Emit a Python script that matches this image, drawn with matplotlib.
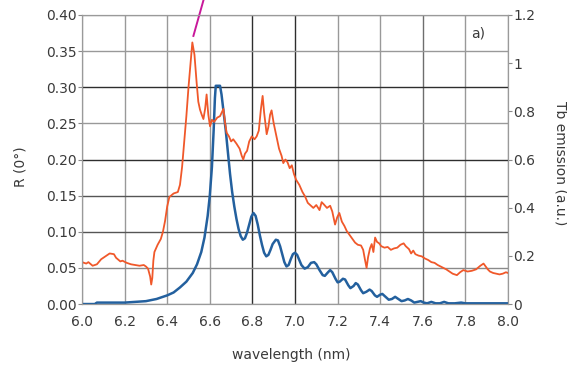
import matplotlib as mpl
mpl.use("Agg")
import matplotlib.pyplot as plt

# reflectivity R(0 deg), left axis
r_wl = [6.00, 6.02, 6.03, 6.05, 6.07, 6.09, 6.11, 6.13, 6.15, 6.16, 6.18, 6.19,
        6.21, 6.23, 6.25, 6.27, 6.29, 6.30, 6.31, 6.32, 6.325, 6.33, 6.335, 6.34,
        6.355, 6.37, 6.38, 6.39, 6.40, 6.41, 6.43, 6.45, 6.46, 6.47, 6.48, 6.49,
        6.50, 6.51, 6.518, 6.528, 6.538, 6.546, 6.554, 6.562, 6.57, 6.578, 6.585,
        6.593, 6.601, 6.61, 6.62, 6.635, 6.648, 6.664, 6.672, 6.679, 6.69, 6.70,
        6.71, 6.725, 6.74, 6.75, 6.757, 6.765, 6.775, 6.785, 6.797, 6.81, 6.82,
        6.83, 6.84, 6.848, 6.855, 6.867, 6.875, 6.883, 6.89, 6.90, 6.914, 6.925,
        6.937, 6.945, 6.955, 6.965, 6.975, 6.985, 6.995, 7.005, 7.02, 7.035,
        7.047, 7.06, 7.075, 7.086, 7.10, 7.115, 7.125, 7.135, 7.15, 7.165, 7.175,
        7.188, 7.198, 7.208, 7.22, 7.232, 7.243, 7.255, 7.27, 7.282, 7.295, 7.31,
        7.32, 7.328, 7.336, 7.343, 7.352, 7.36, 7.368, 7.376, 7.385, 7.395, 7.405,
        7.42, 7.435, 7.45, 7.465, 7.48, 7.495, 7.51, 7.52, 7.535, 7.545, 7.555,
        7.565, 7.58, 7.595, 7.61, 7.625, 7.64, 7.655, 7.67, 7.69, 7.71, 7.725,
        7.74, 7.76, 7.775, 7.79, 7.81, 7.83, 7.85, 7.87, 7.885, 7.895, 7.905,
        7.915, 7.93, 7.945, 7.96, 7.975, 7.99, 8.00]
r_val = [0.058, 0.056, 0.058, 0.053, 0.055, 0.062, 0.066, 0.070, 0.069, 0.064, 0.059, 0.060,
         0.057, 0.055, 0.054, 0.053, 0.054, 0.052, 0.049, 0.038, 0.027, 0.036, 0.060, 0.072,
         0.082, 0.090, 0.100, 0.115, 0.135, 0.148, 0.153, 0.155, 0.165, 0.190, 0.225, 0.260,
         0.300, 0.335, 0.362, 0.345, 0.307, 0.280, 0.269, 0.262, 0.256, 0.270, 0.290,
         0.262, 0.246, 0.255, 0.252, 0.258, 0.260, 0.270, 0.250, 0.237, 0.232, 0.225,
         0.228, 0.222, 0.215, 0.205, 0.200, 0.208, 0.212, 0.225, 0.232, 0.228, 0.232,
         0.240, 0.270, 0.288, 0.265, 0.235, 0.245, 0.262, 0.268, 0.250, 0.230, 0.215,
         0.205, 0.195, 0.200, 0.196, 0.188, 0.192, 0.180, 0.172, 0.165, 0.155,
         0.149, 0.140, 0.136, 0.133, 0.137, 0.130, 0.141, 0.138, 0.133, 0.136, 0.128,
         0.110, 0.120, 0.126, 0.114, 0.108, 0.101, 0.096, 0.090, 0.085, 0.082, 0.081,
         0.075, 0.062, 0.050, 0.065, 0.077, 0.083, 0.072, 0.092, 0.086, 0.084, 0.080,
         0.078, 0.079, 0.075, 0.077, 0.078, 0.082, 0.084, 0.080, 0.076, 0.070, 0.074,
         0.069, 0.067, 0.066, 0.063, 0.061, 0.058, 0.057, 0.054, 0.051, 0.048, 0.045,
         0.042, 0.040, 0.044, 0.047, 0.045, 0.046, 0.048, 0.053, 0.056, 0.052, 0.048,
         0.045, 0.043, 0.042, 0.041, 0.042, 0.044, 0.043]

# Tb emission (a.u.), right axis
tb_wl = [6.00, 6.06, 6.07, 6.15, 6.20, 6.25, 6.30, 6.35, 6.40, 6.43, 6.46, 6.49,
         6.52, 6.54, 6.56, 6.575, 6.59, 6.60, 6.61, 6.618, 6.624, 6.628, 6.648,
         6.655, 6.665, 6.675, 6.685, 6.695, 6.705, 6.715, 6.725, 6.735, 6.745,
         6.755, 6.765, 6.775, 6.785, 6.795, 6.805, 6.815, 6.825, 6.835, 6.845,
         6.855, 6.865, 6.875, 6.885, 6.895, 6.91, 6.92, 6.93, 6.94, 6.95, 6.96,
         6.97, 6.98, 6.99, 7.00, 7.01, 7.02, 7.03, 7.045, 7.06, 7.075, 7.09, 7.10,
         7.115, 7.13, 7.14, 7.155, 7.165, 7.175, 7.19, 7.20, 7.21, 7.225, 7.235,
         7.25, 7.26, 7.275, 7.285, 7.295, 7.31, 7.32, 7.335, 7.35, 7.36, 7.375,
         7.385, 7.40, 7.41, 7.425, 7.44, 7.455, 7.47, 7.485, 7.50, 7.515, 7.53,
         7.545, 7.56, 7.575, 7.59, 7.605, 7.62, 7.64, 7.66, 7.68, 7.70, 7.72,
         7.75, 7.78, 7.80, 7.85, 7.90, 7.95, 8.00]
tb_val = [0.000, 0.000, 0.006, 0.006, 0.006, 0.009, 0.012, 0.021, 0.036, 0.048, 0.069, 0.093,
          0.129, 0.165, 0.216, 0.276, 0.366, 0.450, 0.570, 0.720, 0.855, 0.906, 0.906,
          0.870, 0.795, 0.720, 0.630, 0.540, 0.465, 0.405, 0.354, 0.312, 0.282,
          0.267, 0.273, 0.297, 0.330, 0.363, 0.378, 0.366, 0.330, 0.285, 0.246,
          0.213, 0.198, 0.204, 0.225, 0.249, 0.267, 0.264, 0.240, 0.207, 0.174, 0.156,
          0.162, 0.186, 0.207, 0.213, 0.204, 0.183, 0.162, 0.147, 0.153, 0.171, 0.174, 0.165,
          0.141, 0.120, 0.117, 0.132, 0.141, 0.132, 0.105, 0.090, 0.093, 0.105, 0.102,
          0.078, 0.066, 0.075, 0.087, 0.081, 0.057, 0.045, 0.051, 0.060, 0.054, 0.036,
          0.030, 0.039, 0.042, 0.030, 0.018, 0.021, 0.030, 0.021, 0.012, 0.015, 0.021,
          0.015, 0.006, 0.009, 0.012, 0.006, 0.003, 0.009, 0.003, 0.003, 0.009, 0.003,
          0.003, 0.006, 0.003, 0.003, 0.003, 0.003, 0.003]

# magenta pointer line (data coords, runs off the top of the figure)
pointer_x = [6.523, 6.59]
pointer_y = [0.371, 0.441]

xticks = [6.0, 6.2, 6.4, 6.6, 6.8, 7.0, 7.2, 7.4, 7.6, 7.8, 8.0]
lticks = [0.00, 0.05, 0.10, 0.15, 0.20, 0.25, 0.30, 0.35, 0.40]
rticks = [0, 0.2, 0.4, 0.6, 0.8, 1.0, 1.2]
rtick_labels = ["0", "0.2", "0.4", "0.6", "0.8", "1", "1.2"]

# grid shading as it looks in the scan
xgrid_col = ["#999999", "#999999", "#999999", "#999999", "#2e2e2e", "#2e2e2e",
             "#999999", "#999999", "#6e6e6e", "#999999", "#999999"]
ygrid_col = ["#999999", "#8a8a8a", "#555555", "#555555", "#2e2e2e", "#999999",
             "#2e2e2e", "#999999", "#999999"]

plt.rcParams["font.family"] = ["DejaVu Sans"]
txt = "#3a3a3a"

fig = plt.figure(figsize=(5.67, 3.65), dpi=100)
ax = fig.add_axes([0.1446, 0.167, 0.7514, 0.792])
ax2 = ax.twinx()
ax2.set_ylim(0, 1.2)

# both curves live in ax so the grid stays underneath; blue uses the right scale
ax.plot(tb_wl, tb_val, color="#23609e", lw=1.8, zorder=3, transform=ax2.transData)
ax.plot(r_wl, r_val, color="#f0582a", lw=1.3, zorder=4)
ax.plot(pointer_x, pointer_y, color="#c8189a", lw=1.4, clip_on=False, zorder=5)

ax.set_xlim(6.0, 8.0)
ax.set_ylim(0, 0.40)
ax.set_xticks(xticks)
ax.set_xticklabels(["%.1f" % v for v in xticks])
ax.set_yticks(lticks)
ax.set_yticklabels(["%.2f" % v for v in lticks])
ax2.set_yticks(rticks)
ax2.set_yticklabels(rtick_labels)

ax.grid(True, lw=1.0)
ax.set_axisbelow(True)
for gl, c in zip(ax.xaxis.get_gridlines(), xgrid_col):
    gl.set_color(c)
for gl, c in zip(ax.yaxis.get_gridlines(), ygrid_col):
    gl.set_color(c)
for a in (ax, ax2):
    for s in a.spines.values():
        s.set_color("#9a9a9a")
ax.tick_params(axis="x", length=0, labelsize=10, labelcolor=txt, pad=8)
ax.tick_params(axis="y", length=3, color="#8a8a8a", labelsize=10, labelcolor=txt, pad=1)
ax2.tick_params(axis="y", length=3, color="#8a8a8a", labelsize=10, labelcolor=txt, pad=1)

ax.text(7.86, 0.375, "a)", fontsize=10, color=txt, ha="center", va="center")

fig.text(0.037, 0.542, "R (0°)", rotation=90, fontsize=10, color=txt,
         ha="center", va="center")
fig.text(0.514, 0.027, "wavelength (nm)", fontsize=10, color=txt,
         ha="center", va="center")
fig.text(0.988, 0.553, "Tb emission (a.u.)", rotation=270, fontsize=10, color=txt,
         ha="center", va="center")

fig.savefig("out.png", dpi=100)
